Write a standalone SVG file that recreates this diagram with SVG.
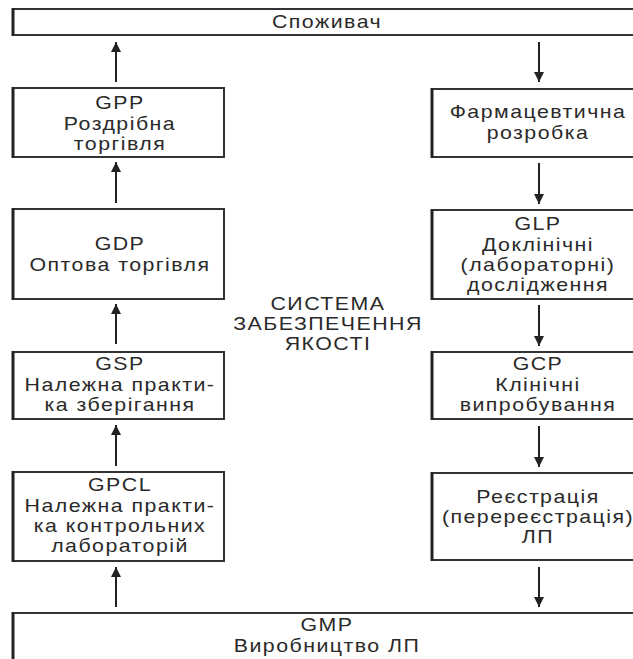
<svg xmlns="http://www.w3.org/2000/svg" width="633" height="659" viewBox="0 0 633 659">
<style>
.box{fill:#fff;stroke:#333;stroke-width:2}
.edge{stroke:#222;stroke-width:3}
.t{font-family:"Liberation Sans",Arial,sans-serif;font-size:17.5px;fill:#2a2a2a;text-anchor:middle;letter-spacing:1.2px}
.c{stroke:#222;stroke-width:2;fill:none;marker-end:url(#ah)}
</style>
<defs>
<marker id="ah" viewBox="0 0 10 13" refX="10" refY="6.5" markerWidth="10" markerHeight="13" markerUnits="userSpaceOnUse" orient="auto">
<path d="M0,1.5 L10,6.5 L0,11.5 Z" fill="#222"/>
</marker>
</defs>
<rect width="633" height="659" fill="#fff"/>
<g id="n-spozhyvach"><rect class="box" x="13" y="9" width="630" height="26"/><line class="edge" x1="13" y1="8" x2="13" y2="36"/><g transform="matrix(1.22,0,0,1,327,0)"><text class="t" x="0" y="28">Споживач</text></g></g>
<g id="n-gpp"><rect class="box" x="13" y="88" width="211" height="69"/><line class="edge" x1="13" y1="87" x2="13" y2="158"/><g transform="matrix(1.22,0,0,1,120,0)"><text class="t" x="0" y="109">GPP</text><text class="t" x="0" y="130">Роздрібна</text><text class="t" x="0" y="150">торгівля</text></g></g>
<g id="n-gdp"><rect class="box" x="13" y="209" width="211" height="90"/><line class="edge" x1="13" y1="208" x2="13" y2="300"/><g transform="matrix(1.22,0,0,1,120,0)"><text class="t" x="0" y="250">GDP</text><text class="t" x="0" y="271">Оптова торгівля</text></g></g>
<g id="n-gsp"><rect class="box" x="13" y="352" width="211" height="67"/><line class="edge" x1="13" y1="351" x2="13" y2="420"/><g transform="matrix(1.22,0,0,1,120,0)"><text class="t" x="0" y="370">GSP</text><text class="t" x="0" y="391">Належна практи-</text><text class="t" x="0" y="411">ка зберігання</text></g></g>
<g id="n-gpcl"><rect class="box" x="13" y="472" width="211" height="89"/><line class="edge" x1="13" y1="471" x2="13" y2="562"/><g transform="matrix(1.22,0,0,1,120,0)"><text class="t" x="0" y="491">GPCL</text><text class="t" x="0" y="512">Належна практи-</text><text class="t" x="0" y="532">ка контрольних</text><text class="t" x="0" y="552">лабораторій</text></g></g>
<g id="n-pharm"><rect class="box" x="432" y="89" width="220" height="68"/><line class="edge" x1="432" y1="88" x2="432" y2="158"/><g transform="matrix(1.22,0,0,1,538,0)"><text class="t" x="0" y="118">Фармацевтична</text><text class="t" x="0" y="139">розробка</text></g></g>
<g id="n-glp"><rect class="box" x="432" y="210" width="220" height="89"/><line class="edge" x1="432" y1="209" x2="432" y2="300"/><g transform="matrix(1.22,0,0,1,538,0)"><text class="t" x="0" y="230">GLP</text><text class="t" x="0" y="251">Доклінічні</text><text class="t" x="0" y="271">(лабораторні)</text><text class="t" x="0" y="291">дослідження</text></g></g>
<g id="n-gcp"><rect class="box" x="432" y="352" width="220" height="67"/><line class="edge" x1="432" y1="351" x2="432" y2="420"/><g transform="matrix(1.22,0,0,1,538,0)"><text class="t" x="0" y="370">GCP</text><text class="t" x="0" y="391">Клінічні</text><text class="t" x="0" y="411">випробування</text></g></g>
<g id="n-reg"><rect class="box" x="432" y="473" width="220" height="87"/><line class="edge" x1="432" y1="472" x2="432" y2="561"/><g transform="matrix(1.22,0,0,1,538,0)"><text class="t" x="0" y="503">Реєстрація</text><text class="t" x="0" y="523">(перереєстрація)</text><text class="t" x="0" y="543">ЛП</text></g></g>
<g id="n-gmp"><rect class="box" x="13" y="613" width="630" height="60"/><line class="edge" x1="13" y1="612" x2="13" y2="659"/><g transform="matrix(1.22,0,0,1,327,0)"><text class="t" x="0" y="631">GMP</text><text class="t" x="0" y="652">Виробництво ЛП</text></g></g>
<g id="n-system"><g transform="matrix(1.22,0,0,1,328,0)"><text class="t" x="0" y="310">СИСТЕМА</text><text class="t" x="0" y="330">ЗАБЕЗПЕЧЕННЯ</text><text class="t" x="0" y="350">ЯКОСТІ</text></g></g>
<g id="connectors">
<line class="c" x1="116" y1="82" x2="116" y2="42"/>
<line class="c" x1="116" y1="203" x2="116" y2="162"/>
<line class="c" x1="116" y1="344" x2="116" y2="304"/>
<line class="c" x1="116" y1="466" x2="116" y2="425"/>
<line class="c" x1="116" y1="607" x2="116" y2="567"/>
<line class="c" x1="539" y1="42" x2="539" y2="82"/>
<line class="c" x1="539" y1="163" x2="539" y2="204"/>
<line class="c" x1="539" y1="305" x2="539" y2="346"/>
<line class="c" x1="539" y1="426" x2="539" y2="467"/>
<line class="c" x1="539" y1="567" x2="539" y2="607"/>
</g>
</svg>
